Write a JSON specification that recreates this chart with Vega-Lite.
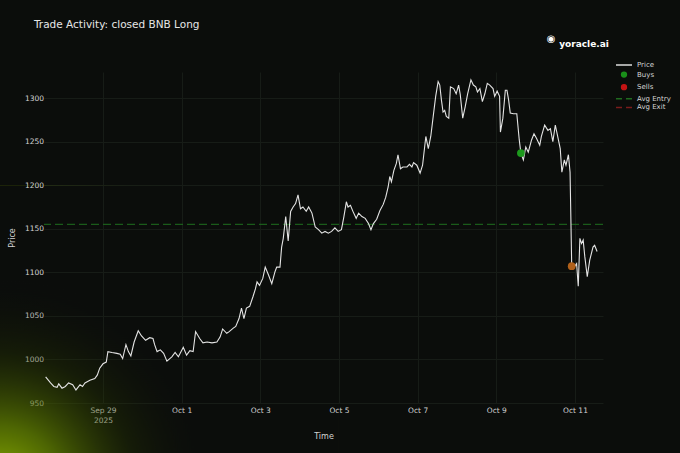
{
  "$schema": "https://vega.github.io/schema/vega-lite/v6.json",
  "width": 559,
  "height": 331,
  "autosize": {"type": "none"},
  "padding": {"left": 44, "top": 72, "right": 77, "bottom": 50},
  "background": "#0b0d0b",
  "title": {
    "text": "Trade Activity: closed BNB Long",
    "anchor": "start",
    "frame": "group",
    "dx": -10,
    "offset": 3.5,
    "color": "#e6e6e6",
    "font": "DejaVu Sans",
    "fontSize": 10.5,
    "fontWeight": "normal"
  },
  "config": {
    "view": {"stroke": null},
    "font": "DejaVu Sans",
    "axis": {
      "labelColor": "#d4d4d4",
      "titleColor": "#d4d4d4",
      "labelFont": "DejaVu Sans",
      "titleFont": "DejaVu Sans",
      "labelFontSize": 7.5,
      "titleFontSize": 8,
      "titleFontWeight": "normal",
      "domain": false,
      "ticks": false,
      "gridColor": "#171c17",
      "gridWidth": 1,
      "zindex": 1
    },
    "legend": {
      "labelColor": "#d6d6d6",
      "labelFont": "DejaVu Sans",
      "labelFontSize": 7
    }
  },
  "datasets": {
    "price": [
      {"t": "2025-09-27T13:00:00Z", "price": 980},
      {"t": "2025-09-27T16:00:00Z", "price": 973},
      {"t": "2025-09-27T18:00:00Z", "price": 969},
      {"t": "2025-09-27T20:00:00Z", "price": 968},
      {"t": "2025-09-27T21:00:00Z", "price": 972},
      {"t": "2025-09-27T23:00:00Z", "price": 967},
      {"t": "2025-09-28T01:00:00Z", "price": 969},
      {"t": "2025-09-28T03:00:00Z", "price": 973},
      {"t": "2025-09-28T05:30:00Z", "price": 971},
      {"t": "2025-09-28T07:30:00Z", "price": 965},
      {"t": "2025-09-28T10:00:00Z", "price": 971},
      {"t": "2025-09-28T11:30:00Z", "price": 969},
      {"t": "2025-09-28T13:00:00Z", "price": 973},
      {"t": "2025-09-28T16:00:00Z", "price": 976},
      {"t": "2025-09-28T19:00:00Z", "price": 978},
      {"t": "2025-09-28T20:30:00Z", "price": 982},
      {"t": "2025-09-28T22:00:00Z", "price": 990},
      {"t": "2025-09-29T00:00:00Z", "price": 995},
      {"t": "2025-09-29T02:00:00Z", "price": 997},
      {"t": "2025-09-29T03:00:00Z", "price": 1009},
      {"t": "2025-09-29T05:30:00Z", "price": 1008},
      {"t": "2025-09-29T08:30:00Z", "price": 1007},
      {"t": "2025-09-29T10:30:00Z", "price": 1006},
      {"t": "2025-09-29T12:00:00Z", "price": 1001},
      {"t": "2025-09-29T14:00:00Z", "price": 1017},
      {"t": "2025-09-29T15:30:00Z", "price": 1009},
      {"t": "2025-09-29T17:00:00Z", "price": 1004},
      {"t": "2025-09-29T19:00:00Z", "price": 1020},
      {"t": "2025-09-29T21:30:00Z", "price": 1033},
      {"t": "2025-09-29T23:30:00Z", "price": 1027},
      {"t": "2025-09-30T02:00:00Z", "price": 1022},
      {"t": "2025-09-30T04:30:00Z", "price": 1025},
      {"t": "2025-09-30T06:30:00Z", "price": 1024},
      {"t": "2025-09-30T07:30:00Z", "price": 1017},
      {"t": "2025-09-30T09:00:00Z", "price": 1009},
      {"t": "2025-09-30T11:00:00Z", "price": 1011},
      {"t": "2025-09-30T13:00:00Z", "price": 1007},
      {"t": "2025-09-30T15:00:00Z", "price": 998},
      {"t": "2025-09-30T18:00:00Z", "price": 1003},
      {"t": "2025-09-30T20:00:00Z", "price": 1008},
      {"t": "2025-09-30T22:00:00Z", "price": 1003},
      {"t": "2025-10-01T01:00:00Z", "price": 1014},
      {"t": "2025-10-01T03:00:00Z", "price": 1005},
      {"t": "2025-10-01T05:00:00Z", "price": 1010},
      {"t": "2025-10-01T07:00:00Z", "price": 1009},
      {"t": "2025-10-01T08:30:00Z", "price": 1032},
      {"t": "2025-10-01T11:00:00Z", "price": 1024},
      {"t": "2025-10-01T13:00:00Z", "price": 1019},
      {"t": "2025-10-01T15:30:00Z", "price": 1020},
      {"t": "2025-10-01T18:30:00Z", "price": 1019},
      {"t": "2025-10-01T21:30:00Z", "price": 1020},
      {"t": "2025-10-01T23:30:00Z", "price": 1026},
      {"t": "2025-10-02T01:00:00Z", "price": 1035},
      {"t": "2025-10-02T03:30:00Z", "price": 1030},
      {"t": "2025-10-02T05:00:00Z", "price": 1032},
      {"t": "2025-10-02T07:30:00Z", "price": 1036},
      {"t": "2025-10-02T09:00:00Z", "price": 1038},
      {"t": "2025-10-02T11:00:00Z", "price": 1047},
      {"t": "2025-10-02T12:30:00Z", "price": 1059},
      {"t": "2025-10-02T14:00:00Z", "price": 1047},
      {"t": "2025-10-02T15:30:00Z", "price": 1059},
      {"t": "2025-10-02T17:30:00Z", "price": 1061},
      {"t": "2025-10-02T19:30:00Z", "price": 1072},
      {"t": "2025-10-02T21:00:00Z", "price": 1081},
      {"t": "2025-10-02T22:00:00Z", "price": 1089},
      {"t": "2025-10-02T23:30:00Z", "price": 1085},
      {"t": "2025-10-03T01:30:00Z", "price": 1093},
      {"t": "2025-10-03T03:00:00Z", "price": 1106},
      {"t": "2025-10-03T05:00:00Z", "price": 1097},
      {"t": "2025-10-03T07:00:00Z", "price": 1087},
      {"t": "2025-10-03T09:00:00Z", "price": 1101},
      {"t": "2025-10-03T10:00:00Z", "price": 1106},
      {"t": "2025-10-03T12:00:00Z", "price": 1106},
      {"t": "2025-10-03T13:00:00Z", "price": 1129},
      {"t": "2025-10-03T14:00:00Z", "price": 1139},
      {"t": "2025-10-03T15:30:00Z", "price": 1164},
      {"t": "2025-10-03T17:00:00Z", "price": 1136},
      {"t": "2025-10-03T18:30:00Z", "price": 1170},
      {"t": "2025-10-03T20:00:00Z", "price": 1175},
      {"t": "2025-10-03T21:30:00Z", "price": 1179},
      {"t": "2025-10-03T23:00:00Z", "price": 1189},
      {"t": "2025-10-04T00:30:00Z", "price": 1173},
      {"t": "2025-10-04T02:00:00Z", "price": 1175},
      {"t": "2025-10-04T04:00:00Z", "price": 1170},
      {"t": "2025-10-04T05:30:00Z", "price": 1175},
      {"t": "2025-10-04T07:30:00Z", "price": 1168},
      {"t": "2025-10-04T09:30:00Z", "price": 1152},
      {"t": "2025-10-04T11:30:00Z", "price": 1149},
      {"t": "2025-10-04T13:30:00Z", "price": 1145},
      {"t": "2025-10-04T15:30:00Z", "price": 1147},
      {"t": "2025-10-04T17:30:00Z", "price": 1145},
      {"t": "2025-10-04T19:30:00Z", "price": 1147},
      {"t": "2025-10-04T21:30:00Z", "price": 1151},
      {"t": "2025-10-04T23:30:00Z", "price": 1147},
      {"t": "2025-10-05T01:30:00Z", "price": 1149},
      {"t": "2025-10-05T03:00:00Z", "price": 1164},
      {"t": "2025-10-05T04:30:00Z", "price": 1181},
      {"t": "2025-10-05T05:30:00Z", "price": 1175},
      {"t": "2025-10-05T07:00:00Z", "price": 1177},
      {"t": "2025-10-05T08:30:00Z", "price": 1170},
      {"t": "2025-10-05T10:30:00Z", "price": 1162},
      {"t": "2025-10-05T12:00:00Z", "price": 1168},
      {"t": "2025-10-05T14:00:00Z", "price": 1164},
      {"t": "2025-10-05T16:00:00Z", "price": 1162},
      {"t": "2025-10-05T18:00:00Z", "price": 1156},
      {"t": "2025-10-05T19:30:00Z", "price": 1149},
      {"t": "2025-10-05T21:00:00Z", "price": 1156},
      {"t": "2025-10-05T23:00:00Z", "price": 1161},
      {"t": "2025-10-06T01:00:00Z", "price": 1171},
      {"t": "2025-10-06T03:00:00Z", "price": 1178},
      {"t": "2025-10-06T04:30:00Z", "price": 1186},
      {"t": "2025-10-06T06:00:00Z", "price": 1198},
      {"t": "2025-10-06T07:00:00Z", "price": 1210},
      {"t": "2025-10-06T08:00:00Z", "price": 1204},
      {"t": "2025-10-06T09:30:00Z", "price": 1217},
      {"t": "2025-10-06T11:00:00Z", "price": 1225},
      {"t": "2025-10-06T12:00:00Z", "price": 1235},
      {"t": "2025-10-06T13:30:00Z", "price": 1219},
      {"t": "2025-10-06T15:00:00Z", "price": 1221},
      {"t": "2025-10-06T17:30:00Z", "price": 1221},
      {"t": "2025-10-06T19:00:00Z", "price": 1224},
      {"t": "2025-10-06T20:30:00Z", "price": 1221},
      {"t": "2025-10-06T21:30:00Z", "price": 1226},
      {"t": "2025-10-06T23:30:00Z", "price": 1223},
      {"t": "2025-10-07T01:30:00Z", "price": 1214},
      {"t": "2025-10-07T03:00:00Z", "price": 1223},
      {"t": "2025-10-07T05:00:00Z", "price": 1256},
      {"t": "2025-10-07T06:30:00Z", "price": 1242},
      {"t": "2025-10-07T08:00:00Z", "price": 1256},
      {"t": "2025-10-07T09:30:00Z", "price": 1279},
      {"t": "2025-10-07T11:00:00Z", "price": 1302},
      {"t": "2025-10-07T12:30:00Z", "price": 1319},
      {"t": "2025-10-07T13:30:00Z", "price": 1315},
      {"t": "2025-10-07T14:30:00Z", "price": 1298},
      {"t": "2025-10-07T15:30:00Z", "price": 1284},
      {"t": "2025-10-07T16:30:00Z", "price": 1286},
      {"t": "2025-10-07T17:30:00Z", "price": 1279},
      {"t": "2025-10-07T19:00:00Z", "price": 1277},
      {"t": "2025-10-07T20:00:00Z", "price": 1313},
      {"t": "2025-10-07T22:00:00Z", "price": 1311},
      {"t": "2025-10-07T23:30:00Z", "price": 1305},
      {"t": "2025-10-08T01:00:00Z", "price": 1315},
      {"t": "2025-10-08T02:00:00Z", "price": 1304},
      {"t": "2025-10-08T03:30:00Z", "price": 1277},
      {"t": "2025-10-08T05:00:00Z", "price": 1290},
      {"t": "2025-10-08T06:30:00Z", "price": 1305},
      {"t": "2025-10-08T08:30:00Z", "price": 1321},
      {"t": "2025-10-08T10:00:00Z", "price": 1315},
      {"t": "2025-10-08T11:30:00Z", "price": 1313},
      {"t": "2025-10-08T12:30:00Z", "price": 1307},
      {"t": "2025-10-08T14:00:00Z", "price": 1311},
      {"t": "2025-10-08T15:30:00Z", "price": 1296},
      {"t": "2025-10-08T17:00:00Z", "price": 1305},
      {"t": "2025-10-08T18:30:00Z", "price": 1317},
      {"t": "2025-10-08T20:00:00Z", "price": 1315},
      {"t": "2025-10-08T22:00:00Z", "price": 1311},
      {"t": "2025-10-08T23:00:00Z", "price": 1302},
      {"t": "2025-10-09T00:30:00Z", "price": 1308},
      {"t": "2025-10-09T02:00:00Z", "price": 1302},
      {"t": "2025-10-09T02:30:00Z", "price": 1261},
      {"t": "2025-10-09T04:00:00Z", "price": 1277},
      {"t": "2025-10-09T05:30:00Z", "price": 1309},
      {"t": "2025-10-09T06:30:00Z", "price": 1309},
      {"t": "2025-10-09T07:30:00Z", "price": 1298},
      {"t": "2025-10-09T08:30:00Z", "price": 1283},
      {"t": "2025-10-09T10:30:00Z", "price": 1282},
      {"t": "2025-10-09T12:30:00Z", "price": 1282},
      {"t": "2025-10-09T14:00:00Z", "price": 1252},
      {"t": "2025-10-09T15:00:00Z", "price": 1237},
      {"t": "2025-10-09T16:30:00Z", "price": 1229},
      {"t": "2025-10-09T18:00:00Z", "price": 1244},
      {"t": "2025-10-09T19:30:00Z", "price": 1238},
      {"t": "2025-10-09T21:30:00Z", "price": 1252},
      {"t": "2025-10-09T23:00:00Z", "price": 1259},
      {"t": "2025-10-10T00:30:00Z", "price": 1254},
      {"t": "2025-10-10T02:30:00Z", "price": 1246},
      {"t": "2025-10-10T03:30:00Z", "price": 1256},
      {"t": "2025-10-10T05:30:00Z", "price": 1269},
      {"t": "2025-10-10T07:30:00Z", "price": 1263},
      {"t": "2025-10-10T09:00:00Z", "price": 1265},
      {"t": "2025-10-10T10:30:00Z", "price": 1250},
      {"t": "2025-10-10T12:00:00Z", "price": 1269},
      {"t": "2025-10-10T13:00:00Z", "price": 1260},
      {"t": "2025-10-10T15:00:00Z", "price": 1242},
      {"t": "2025-10-10T16:00:00Z", "price": 1215},
      {"t": "2025-10-10T17:30:00Z", "price": 1229},
      {"t": "2025-10-10T18:30:00Z", "price": 1223},
      {"t": "2025-10-10T20:00:00Z", "price": 1235},
      {"t": "2025-10-10T21:00:00Z", "price": 1215},
      {"t": "2025-10-10T22:00:00Z", "price": 1108},
      {"t": "2025-10-10T23:30:00Z", "price": 1106},
      {"t": "2025-10-11T01:00:00Z", "price": 1110},
      {"t": "2025-10-11T02:00:00Z", "price": 1084},
      {"t": "2025-10-11T03:00:00Z", "price": 1139},
      {"t": "2025-10-11T04:00:00Z", "price": 1133},
      {"t": "2025-10-11T05:00:00Z", "price": 1137},
      {"t": "2025-10-11T06:00:00Z", "price": 1118},
      {"t": "2025-10-11T07:30:00Z", "price": 1095},
      {"t": "2025-10-11T09:00:00Z", "price": 1114},
      {"t": "2025-10-11T11:00:00Z", "price": 1129},
      {"t": "2025-10-11T12:00:00Z", "price": 1131},
      {"t": "2025-10-11T13:30:00Z", "price": 1124}
    ],
    "trades": [
      {"t": "2025-10-09T15:00:00Z", "price": 1237, "side": "Buy"},
      {"t": "2025-10-10T22:00:00Z", "price": 1107, "side": "Sell"}
    ],
    "series": [
      {"series": "Price"},
      {"series": "Buys"},
      {"series": "Sells"},
      {"series": "Avg Entry"},
      {"series": "Avg Exit"}
    ],
    "one": [{"k": 1}]
  },
  "layer": [
    {
      "data": {"name": "one"},
      "mark": {
        "type": "rect",
        "clip": false,
        "fill": {
          "gradient": "radial",
          "x1": 0, "y1": 1, "r1": 0,
          "x2": 0, "y2": 1, "r2": 0.62,
          "stops": [
            {"offset": 0, "color": "rgba(150,186,0,1)"},
            {"offset": 0.3, "color": "rgba(100,132,0,0.75)"},
            {"offset": 0.65, "color": "rgba(45,62,0,0.3)"},
            {"offset": 1, "color": "rgba(11,13,11,0)"}
          ]
        }
      },
      "encoding": {
        "x": {"datum": {"year": 2025, "month": 9, "date": 26, "hours": 9, "utc": true}, "type": "temporal"},
        "x2": {"datum": {"year": 2025, "month": 10, "date": 5, "utc": true}},
        "y": {"datum": 892, "type": "quantitative"},
        "y2": {"datum": 1200}
      }
    },
    {
      "data": {"name": "one"},
      "mark": {"type": "rule", "color": "#1d6a1d", "strokeDash": [8, 4], "strokeWidth": 1.3, "opacity": 0.85},
      "encoding": {
        "y": {"datum": 1155, "type": "quantitative"}
      }
    },
    {
      "data": {"name": "price"},
      "mark": {"type": "line", "color": "#e4e4e4", "strokeWidth": 1.1},
      "encoding": {
        "x": {
          "field": "t",
          "type": "temporal",
          "title": "Time",
          "scale": {
            "type": "utc",
            "nice": false,
            "domain": [
              {"year": 2025, "month": 9, "date": 27, "hours": 12, "utc": true},
              {"year": 2025, "month": 10, "date": 11, "hours": 17, "minutes": 6, "utc": true}
            ]
          },
          "axis": {
            "values": [
              {"year": 2025, "month": 9, "date": 29, "utc": true},
              {"year": 2025, "month": 10, "date": 1, "utc": true},
              {"year": 2025, "month": 10, "date": 3, "utc": true},
              {"year": 2025, "month": 10, "date": 5, "utc": true},
              {"year": 2025, "month": 10, "date": 7, "utc": true},
              {"year": 2025, "month": 10, "date": 9, "utc": true},
              {"year": 2025, "month": 10, "date": 11, "utc": true}
            ],
            "labelExpr": "utcFormat(datum.value, '%b %-d') == 'Sep 29' ? ['Sep 29', '2025'] : utcFormat(datum.value, '%b %-d')",
            "labelLineHeight": 10,
            "labelPadding": 3,
            "titlePadding": 9,
            "grid": true
          }
        },
        "y": {
          "field": "price",
          "type": "quantitative",
          "title": "Price",
          "scale": {"domain": [950, 1330], "nice": false, "zero": false},
          "axis": {
            "values": [950, 1000, 1050, 1100, 1150, 1200, 1250, 1300],
            "format": "d",
            "labelPadding": 0.5,
            "titlePadding": 8,
            "grid": true
          }
        }
      }
    },
    {
      "data": {"name": "trades"},
      "mark": {"type": "point", "filled": true, "size": 60, "opacity": 1},
      "encoding": {
        "x": {"field": "t", "type": "temporal"},
        "y": {"field": "price", "type": "quantitative"},
        "color": {
          "field": "side",
          "type": "nominal",
          "scale": {"domain": ["Buy", "Sell"], "range": ["#1d991d", "#b0601a"]},
          "legend": null
        }
      }
    },
    {
      "data": {"name": "series"},
      "transform": [{"filter": "false"}],
      "mark": {"type": "point", "filled": true, "opacity": 1},
      "encoding": {
        "fill": {
          "field": "series",
          "type": "nominal",
          "scale": {
            "domain": ["Price", "Buys", "Sells", "Avg Entry", "Avg Exit"],
            "range": ["#dddddd", "#1a8f1a", "#c41414", "#1f6b1f", "#7a1c1c"]
          },
          "legend": {
            "orient": "none",
            "legendX": 575,
            "legendY": -12,
            "title": null,
            "padding": 0,
            "symbolSize": 64,
            "symbolStrokeWidth": 1.5,
            "labelOffset": 8,
            "rowPadding": 0.6
          }
        },
        "stroke": {
          "field": "series",
          "type": "nominal",
          "scale": {
            "domain": ["Price", "Buys", "Sells", "Avg Entry", "Avg Exit"],
            "range": ["#dddddd", "#1a8f1a", "#c41414", "#1f6b1f", "#7a1c1c"]
          },
          "legend": {
            "orient": "none",
            "legendX": 575,
            "legendY": -12,
            "title": null,
            "padding": 0,
            "symbolSize": 64,
            "symbolStrokeWidth": 1.5,
            "labelOffset": 8,
            "rowPadding": 0.6
          }
        },
        "shape": {
          "field": "series",
          "type": "nominal",
          "scale": {
            "domain": ["Price", "Buys", "Sells", "Avg Entry", "Avg Exit"],
            "range": [
              "M-2,0H2",
              "M-0.6,0A0.6,0.6,0,1,0,0.6,0A0.6,0.6,0,1,0,-0.6,0Z",
              "M-0.6,0A0.6,0.6,0,1,0,0.6,0A0.6,0.6,0,1,0,-0.6,0Z",
              "M-2,0H-0.5M0.5,0H2",
              "M-2,0H-0.5M0.5,0H2"
            ]
          },
          "legend": {
            "orient": "none",
            "legendX": 575,
            "legendY": -12,
            "title": null,
            "padding": 0,
            "symbolSize": 64,
            "symbolStrokeWidth": 1.5,
            "labelOffset": 8,
            "rowPadding": 0.6
          }
        }
      }
    },
    {
      "data": {"name": "one"},
      "mark": {"type": "text", "text": "yoracle.ai", "color": "#ffffff", "fontWeight": "bold", "fontSize": 9, "align": "center", "baseline": "middle", "clip": false},
      "encoding": {
        "x": {"datum": {"year": 2025, "month": 10, "date": 11, "hours": 5, "minutes": 30, "utc": true}, "type": "temporal"},
        "y": {"datum": 1362, "type": "quantitative"}
      }
    },
    {
      "data": {"name": "one"},
      "mark": {"type": "text", "text": "◉", "color": "#ffffff", "fontSize": 10, "align": "center", "baseline": "middle", "clip": false},
      "encoding": {
        "x": {"datum": {"year": 2025, "month": 10, "date": 10, "hours": 9, "minutes": 30, "utc": true}, "type": "temporal"},
        "y": {"datum": 1368, "type": "quantitative"}
      }
    }
  ]
}
